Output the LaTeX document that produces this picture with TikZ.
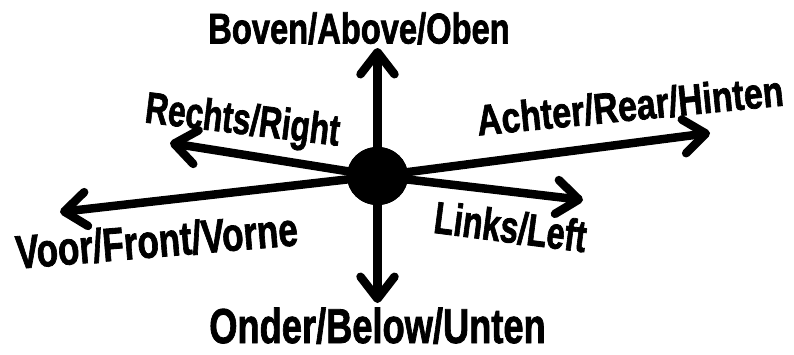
\documentclass[tikz,border=0pt]{standalone}
\usepackage{graphicx}
\usepackage{fontspec}
\setmainfont{Liberation Sans}[BoldFeatures={FakeBold=1.8}]
\usetikzlibrary{arrows.meta,shapes.geometric}
\tikzset{
  axisarrow/.style={line width=8.5pt, -{Straight Barb[length=22pt,width=34pt,round]}},
  lbl/.style={anchor=base, inner sep=0pt, font=\bfseries\fontsize{#1}{#1}\selectfont},
  hub/.style={ellipse, fill=black, draw=none, minimum width=61pt, minimum height=58pt, inner sep=0pt},
}
\newcommand{\sqz}[2]{\scalebox{#1}[1]{#2}}
\begin{document}
\begin{tikzpicture}[x=1pt,y=-1pt]
\useasboundingbox (0,0) rectangle (794,354);
% tips
\coordinate (up) at (377.5,48);
\coordinate (down) at (377.5,303);
\coordinate (right) at (170,143);
\coordinate (rear) at (710,133);
\coordinate (front) at (60,212);
\coordinate (left) at (583,200);
\node[hub] (c) at (377.5,176) {};
\draw[axisarrow] (c.center) -- (up);
\draw[axisarrow] (c.center) -- (down);
\draw[axisarrow] (c.center) -- (right);
\draw[axisarrow] (c.center) -- (rear);
\draw[axisarrow] (c.center) -- (front);
\draw[axisarrow] (c.center) -- (left);
\node[hub] (c2) at (c) {};
% labels
\node[lbl=43] (tboven) at (359,43.5) {\sqz{0.76}{Boven/Above/Oben}};
\node[lbl=49] (tonder) at (377.5,343) {\sqz{0.74}{Onder/Below/Unten}};
\node[lbl=44, rotate=-6.9] (trechts) at (241,134) {\sqz{0.72}{Rechts/Right}};
\node[lbl=43, rotate=5.6] (tachter) at (631.5,120.5) {\sqz{0.79}{Achter/Rear/Hinten}};
\node[lbl=47, rotate=4.8] (tvoor) at (158,257) {\sqz{0.745}{Voor/Front/Vorne}};
\node[lbl=45, rotate=-7.4] (tlinks) at (508.5,242.5) {\sqz{0.72}{Links/Left}};
\end{tikzpicture}
\end{document}
